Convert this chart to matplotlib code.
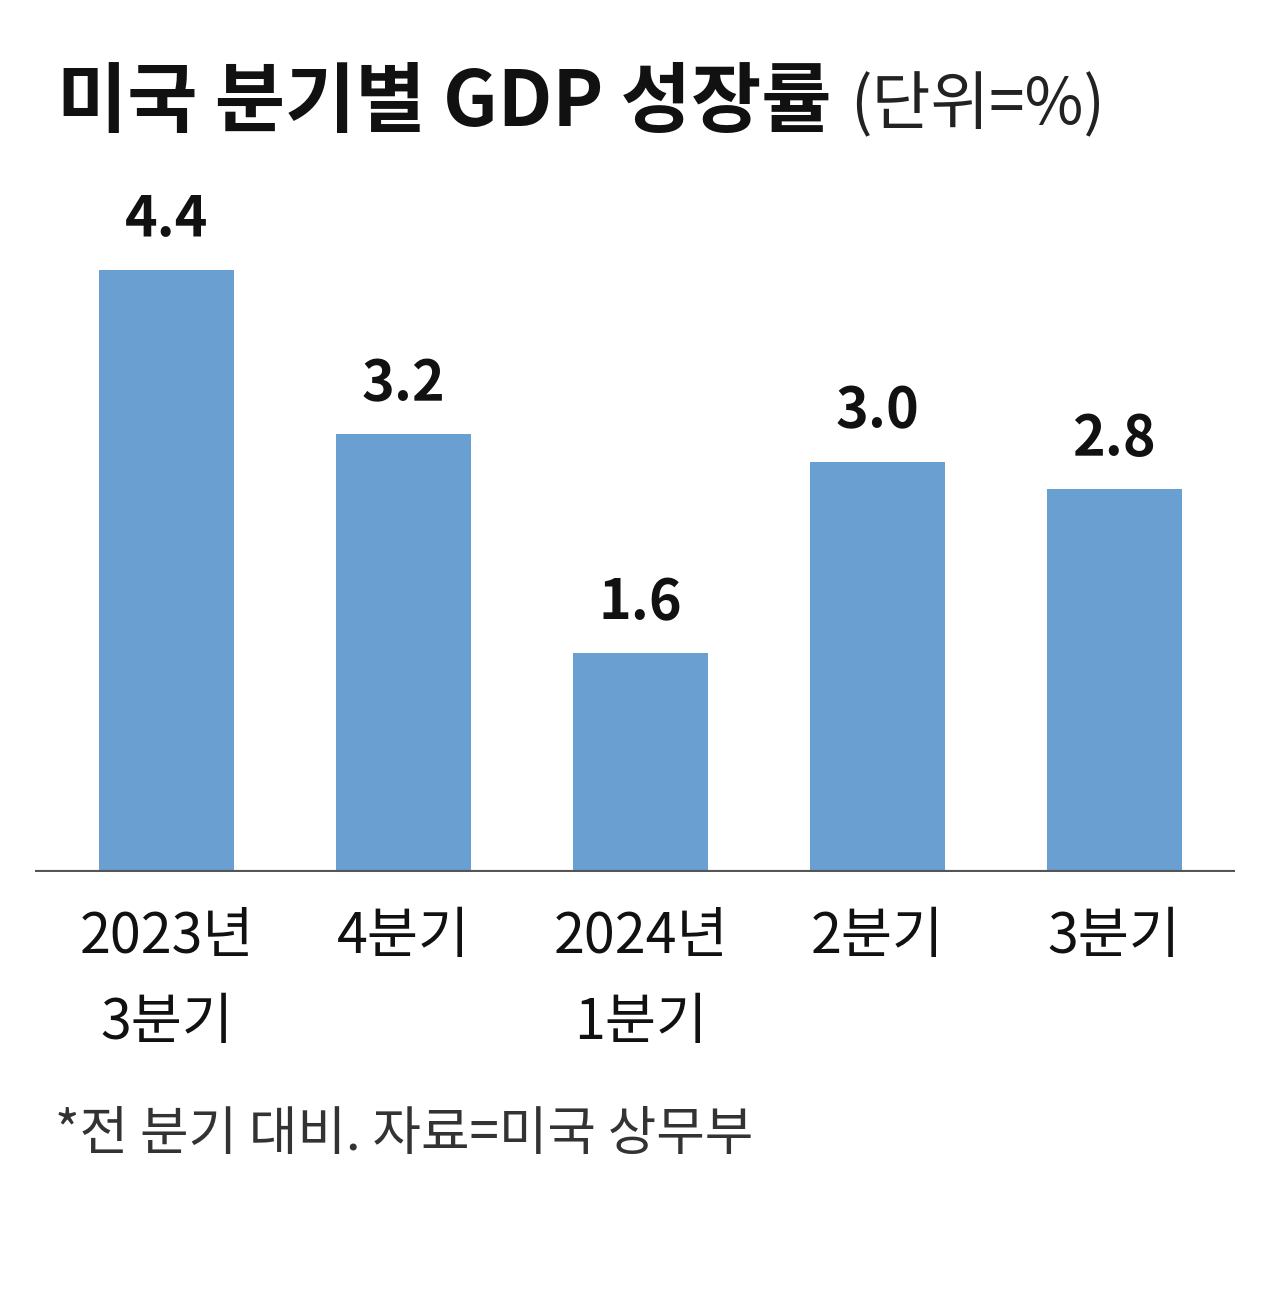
import matplotlib
matplotlib.use("Agg")
import matplotlib.pyplot as plt

plt.rcParams['font.family'] = ['Noto Sans CJK KR', 'DejaVu Sans']

quarters = ["2023년\n3분기", "4분기", "2024년\n1분기", "2분기", "3분기"]
growth = [4.4, 3.2, 1.6, 3.0, 2.8]

title = "미국 분기별 GDP 성장률"
unit = "(단위=%)"
note = "*전 분기 대비. 자료=미국 상무부"

bar_color = "#6a9fd2"

fig = plt.figure(figsize=(12.8, 12.91), dpi=100)
ax = fig.add_axes([35 / 1280, 0.3246, 1200 / 1280, 0.8838 - 0.3246])

x = range(len(growth))
bars = ax.bar(x, growth, width=0.57, color=bar_color, zorder=2)

for xi, v in zip(x, growth):
    ax.annotate(f"{v:.1f}", (xi, v), xytext=(0, 16), textcoords="offset points",
                ha="center", va="bottom", fontsize=40, fontweight="bold",
                color="#111111")

ax.set_xlim(-0.557, 4.51)
ax.set_ylim(0, 5.278)
ax.axhline(0, color="#555555", linewidth=3, zorder=3)

ax.set_xticks(list(x))
ax.set_xticklabels(quarters, fontsize=40, color="#111111", linespacing=1.65)
ax.tick_params(axis="x", length=0, pad=26)
ax.set_yticks([])
for s in ax.spines.values():
    s.set_visible(False)

fig.text(57 / 1280, 1 - 103 / 1291, title, fontsize=55, fontweight="bold",
         va="center", ha="left", color="#111111")
fig.text(850 / 1280, 1 - 106 / 1291, unit, fontsize=46,
         va="center", ha="left", color="#222222")
fig.text(55 / 1280, 1 - 1135 / 1291, note, fontsize=38,
         va="center", ha="left", color="#333333")

fig.savefig("out.png", dpi=100)
